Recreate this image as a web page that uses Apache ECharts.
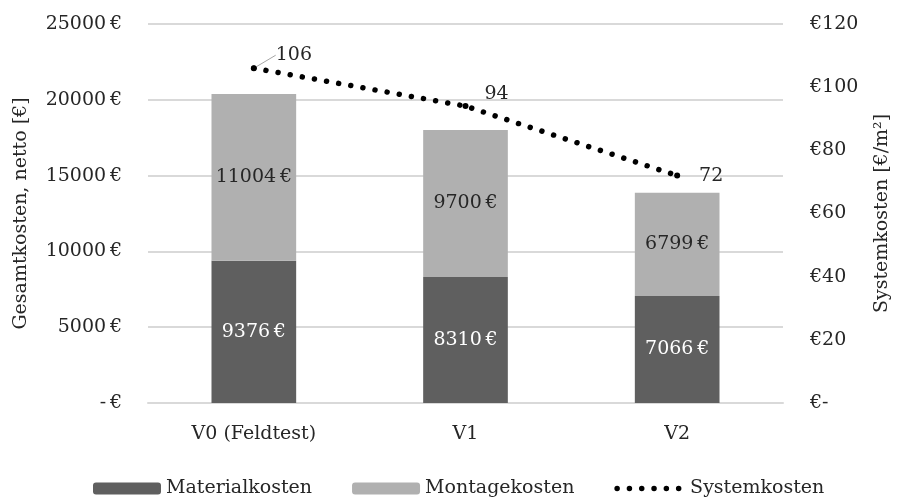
<!DOCTYPE html>
<html>
<head>
<meta charset="utf-8">
<script src="https://cdn.jsdelivr.net/npm/echarts@6/dist/echarts.min.js"></script>
<style>
  html, body { margin: 0; padding: 0; background: #fff; }
  #main { width: 900px; height: 498px; }
</style>
</head>
<body>
<div id="main"></div>
<script>
// data
var categories = ["V0 (Feldtest)", "V1", "V2"];
var materialkosten = [9376, 8310, 7066];
var montagekosten = [11004, 9700, 6799];
var systemkosten = [106, 94, 72];

var FONT = "DejaVu Serif";
var FS = 19;
var TXT = "#262626";
var DOTS = { color: "#000", width: 5.5, type: [0.01, 12.3], cap: "round" };

var myChart = echarts.init(document.getElementById("main"));
var option;

// label offsets for the line labels (dx, dy from the point)
var lineLabelOffset = [[40, -13], [31, -12], [34, 0]];

option = {
  animation: false,
  textStyle: { fontFamily: FONT, fontSize: FS, color: TXT },
  grid: { left: 148, right: 115, top: 24, bottom: 95 },
  legend: {
    left: 88,
    top: 474,
    itemWidth: 68,
    itemHeight: 12,
    itemGap: 40,
    textStyle: { fontFamily: FONT, fontSize: FS, color: TXT },
    data: [
      { name: "Materialkosten" },
      { name: "Montagekosten" },
      {
        name: "Systemkosten",
        itemStyle: { color: "rgba(0,0,0,0)", borderWidth: 0 },
        lineStyle: DOTS,
      },
    ],
  },
  xAxis: {
    type: "category",
    data: categories,
    axisLine: { show: true, lineStyle: { color: "#d9d9d9", width: 2 } },
    axisTick: { show: false },
    axisLabel: { fontFamily: FONT, fontSize: FS, color: TXT, margin: 22 },
  },
  yAxis: [
    {
      type: "value",
      min: 0,
      max: 25000,
      interval: 5000,
      name: "Gesamtkosten, netto [€]",
      nameLocation: "middle",
      nameGap: 117,
      nameTextStyle: { fontFamily: FONT, fontSize: FS, color: TXT },
      axisLine: { show: false },
      axisTick: { show: false },
      splitLine: { lineStyle: { color: "#d9d9d9", width: 2 } },
      axisLabel: {
        fontFamily: FONT,
        fontSize: FS,
        color: TXT,
        margin: 26,
        formatter: function (v) {
          return v === 0 ? "-\u2009€" : v + "\u2009€";
        },
      },
    },
    {
      type: "value",
      min: 0,
      max: 120,
      interval: 20,
      name: "Systemkosten [€/m²]",
      nameLocation: "middle",
      nameGap: 90,
      nameTextStyle: { fontFamily: FONT, fontSize: FS, color: TXT },
      axisLine: { show: false },
      axisTick: { show: false },
      splitLine: { show: false },
      axisLabel: {
        fontFamily: FONT,
        fontSize: FS,
        color: TXT,
        margin: 27,
        formatter: function (v) {
          return v === 0 ? "€-" : "€" + v;
        },
      },
    },
  ],
  series: [
    {
      name: "Materialkosten",
      type: "bar",
      stack: "kosten",
      barWidth: "40%",
      itemStyle: { color: "#5f5f5f" },
      label: {
        show: true,
        position: "inside",
        fontFamily: FONT,
        fontSize: FS,
        color: "#ffffff",
        formatter: function (p) {
          return p.value + "\u2009€";
        },
      },
      data: materialkosten,
    },
    {
      name: "Montagekosten",
      type: "bar",
      stack: "kosten",
      barWidth: "40%",
      itemStyle: { color: "#b0b0b0" },
      label: {
        show: true,
        position: "inside",
        fontFamily: FONT,
        fontSize: FS,
        color: TXT,
        formatter: function (p) {
          return p.value + "\u2009€";
        },
      },
      data: montagekosten,
    },
    {
      name: "Systemkosten",
      type: "line",
      yAxisIndex: 1,
      symbol: "circle",
      symbolSize: 6,
      itemStyle: { color: "#000" },
      lineStyle: DOTS,
      label: {
        show: true,
        position: "inside",
        fontFamily: FONT,
        fontSize: FS,
        color: TXT,
      },
      labelLayout: function (params) {
        var o = lineLabelOffset[params.dataIndex];
        return { dx: o[0], dy: o[1] };
      },
      labelLine: { show: false },
      data: systemkosten.map(function (v, i) {
        if (i === 0) {
          return { value: v, labelLine: { show: true, lineStyle: { color: "#a6a6a6", width: 1 } } };
        }
        return v;
      }),
    },
  ],
};

option && myChart.setOption(option);
</script>
</body>
</html>
